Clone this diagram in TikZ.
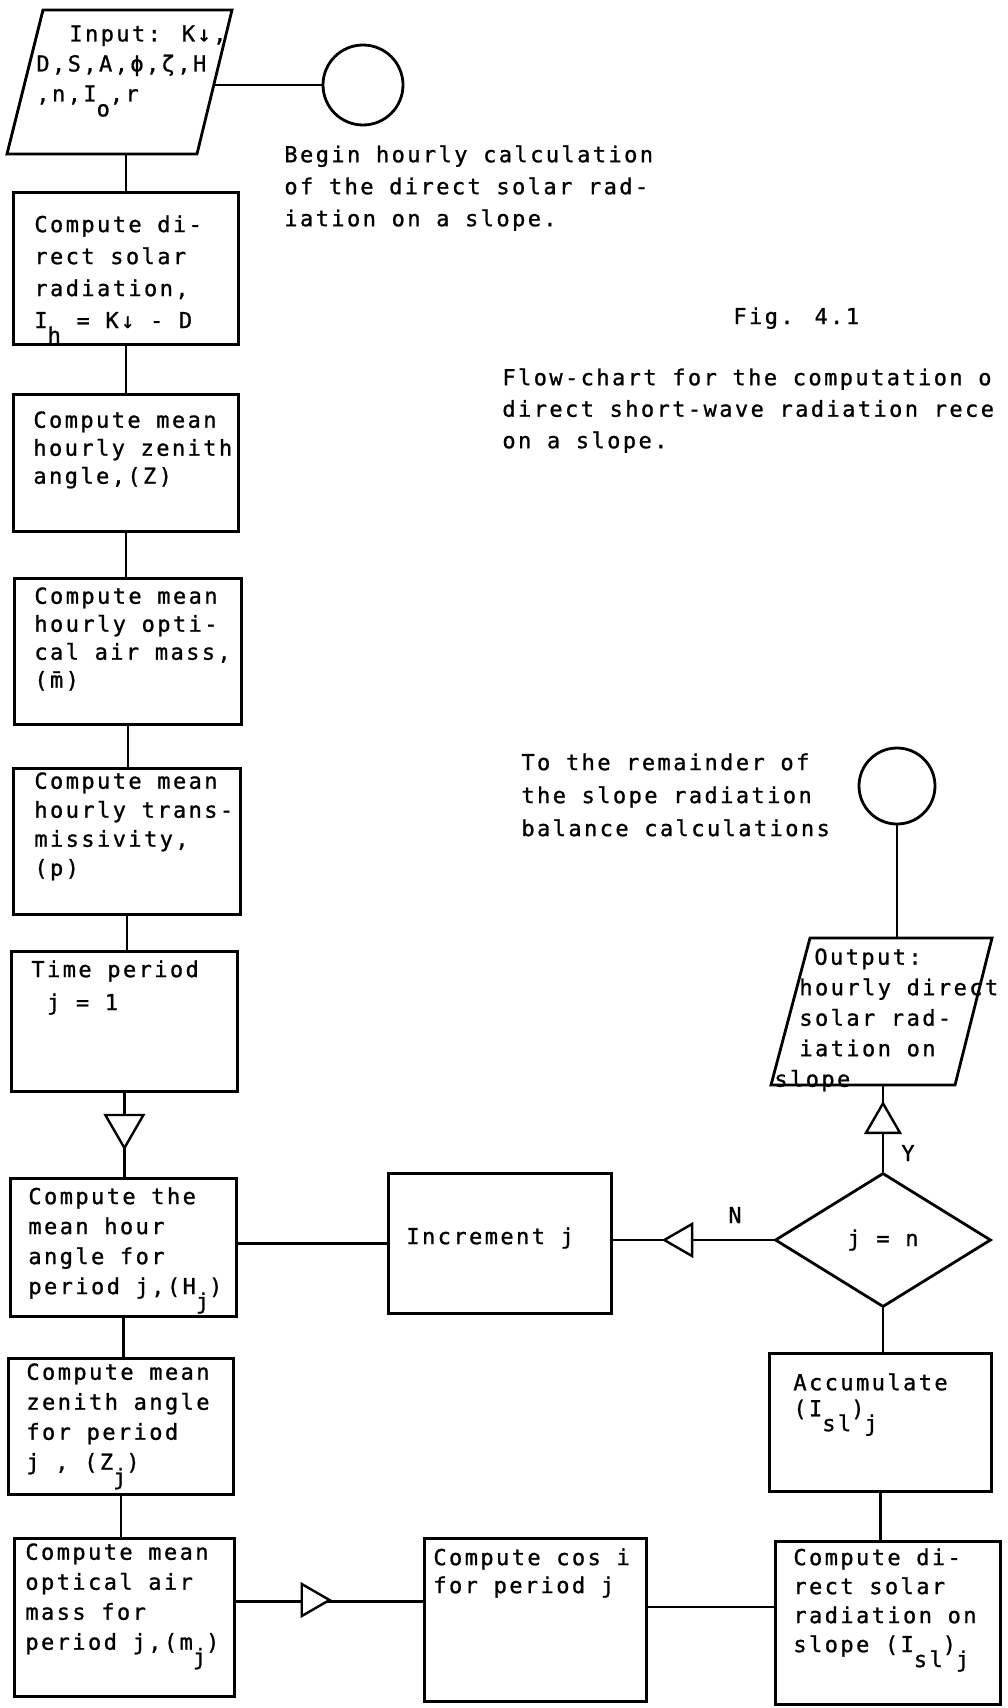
\documentclass[tikz,border=0pt]{standalone}
\usepackage{fontspec}
\usetikzlibrary{shapes.geometric,calc}
\newfontfamily\tw[LetterSpace=11,FakeBold=1]{DejaVu Sans Mono}
\newcommand\lo[1]{\raisebox{-0.68em}[0pt][0pt]{#1}}
\newcommand\tfs[1]{\tw\fontsize{22pt}{#1pt}\selectfont}
\newcommand\bx[5]{\node[boxst, minimum width=#4pt-#2pt, minimum height=#5pt-#3pt] (#1) at (#2,#3) {};}
\begin{document}
\begin{tikzpicture}[x=1pt,y=-1pt,line width=2.8pt,
  boxst/.style={draw, rectangle, inner sep=0pt, anchor=north west},
  txt/.style={inner sep=0pt, anchor=north west, align=left},
  term/.style={draw, circle, inner sep=0pt},
  iobox/.style={inner sep=0pt, rectangle},
  tri/.style={draw, fill=white, regular polygon, regular polygon sides=3, inner sep=0pt, line width=2.4pt},
  lbl/.style={inner sep=0pt, font=\tfs{25}}]
\fill[white] (0,0) rectangle (1008,1708);
\useasboundingbox (0,0) rectangle (1008,1708);

% terminals
\node[term, minimum size=80pt] (c1) at (363,85) {};
\node[term, minimum size=76pt] (c2) at (897,786) {};

% input / output parallelograms
\node[iobox, minimum width=225pt, minimum height=144pt] (inp) at (119.5,82) {};
\coordinate (inpR) at (213.5,85);
\draw[line join=miter] (43,10) -- (232,10) -- (197,154) -- (7,154) -- cycle;
\node[iobox, minimum width=221pt, minimum height=147pt] (out) at (881.5,1011.5) {};
\draw[line join=miter] (810,938) -- (992,938) -- (955,1085) -- (771,1085) -- cycle;

% process boxes
\bx{b1}{12}{191}{237}{343}
\bx{b2}{12}{393}{237}{530}
\bx{b3}{13}{577}{240}{723}
\bx{b4}{12}{767}{239}{913}
\bx{b5}{10}{950}{236}{1090}
\bx{b6}{9}{1177}{235}{1315}
\bx{b7}{7}{1357}{232}{1493}
\bx{b8}{13}{1537}{233}{1695}
\bx{inc}{387}{1172}{610}{1312}
\bx{cos}{423}{1537}{645}{1700}
\bx{acc}{768}{1352}{990}{1490}
\bx{slp}{774}{1540}{999}{1703}
\node[draw, diamond, minimum width=216pt, minimum height=134pt, inner sep=0pt, font=\tfs{25}] (dia) at (883,1240) {j = n};

% connectors
\draw (inpR) -- (inpR -| c1.west);
\draw (b1.north) -- (b1.north |- inp.south);
\draw (b1.south) -- (b1.south |- b2.north);
\draw (b2.south) -- (b2.south |- b3.north);
\draw (b3.south) -- (b3.south |- b4.north);
\draw (b4.south) -- (b4.south |- b5.north);
\draw (b5.south) -- (b5.south |- b6.north);
\draw (b6.south) -- (b6.south |- b7.north);
\draw (b7.south) -- (b7.south |- b8.north);
\draw (inc.west -| b6.east) -- (inc.west);
\draw (dia.west) -- (dia.west -| inc.east);
\draw (dia.north) -- (dia.north |- out.south);
\draw (c2.south) -- (c2.south |- out.north);
\draw (dia.south) -- (dia.south |- acc.north);
\draw (acc.south) -- (acc.south |- slp.north);
\draw ([yshift=13pt]cos.east) -- ([yshift=13pt]cos.east -| slp.west);
\draw ([yshift=16pt]b8.east) -- ([yshift=16pt]b8.east -| cos.west);

% flow triangles
\node[tri, minimum size=43.9pt, regular polygon rotate=180] (t1) at (b5.south |- 0,1126) {};
\node[tri, minimum size=37pt, regular polygon rotate=-90] (t2) at (311,1600) {};
\node[tri, minimum size=37pt, regular polygon rotate=90] (t3) at (682.8,1240) {};
\node[tri, minimum size=39.3pt] (t4) at (dia.north |- 0,1123) {};

% texts in boxes
\node[txt, font=\tfs{30}] (inpt) at (35,24) {\hspace*{33pt}Input: K↓,\\D,S,A,ϕ,ζ,H\\,n,I\lo{o},r};
\node[txt, font=\tfs{32}] (b1t) at (33,214) {Compute di-\\rect solar\\radiation,\\I\lo{h} = K↓ - D};
\node[txt, font=\tfs{28}] (b2t) at (32,410) {Compute mean\\hourly zenith\\angle,(Z)};
\node[txt, font=\tfs{28}] (b3t) at (33,586) {Compute mean\\hourly opti-\\cal air mass,\\(\={m})};
\node[txt, font=\tfs{29}] (b4t) at (33,771) {Compute mean\\hourly trans-\\missivity,\\(p)};
\node[txt, font=\tfs{33}] (b5t) at (30,959) {Time period\\\hspace*{15.6pt}j = 1};
\node[txt, font=\tfs{30}] (b6t) at (27,1186) {Compute the\\mean hour\\angle for\\period j,(H\lo{j})};
\node[txt, font=\tfs{30}] (b7t) at (25,1362) {Compute mean\\zenith angle\\for period\\j , (Z\lo{j})};
\node[txt, font=\tfs{30}] (b8t) at (24,1542) {Compute mean\\optical air\\mass for\\period j,(m\lo{j})};
\node[txt, font=\tfs{30}] (inct) at (405,1226) {Increment j};
\node[txt, font=\tfs{28}] (cost) at (432,1547) {Compute cos i\\for period j};
\node[txt, font=\tfs{26}] (acct) at (792,1372) {Accumulate\\(I\lo{sl})\lo{j}};
\node[txt, font=\tfs{29}] (slpt) at (792,1547) {Compute di-\\rect solar\\radiation on\\slope (I\lo{sl})\lo{j}};
\node[txt, font=\tfs{30.5}] (outt) at (798,947) {\hspace*{15pt}Output:\\hourly direct\\solar rad-\\iation on\\\hspace*{-25pt}slope};

% labels
\node[lbl] (nl) at (735,1215) {N};
\node[lbl] (yl) at (908,1153) {Y};

% free texts
\node[txt, font=\tfs{32}] (begin) at (283,144) {Begin hourly calculation\\of the direct solar rad-\\iation on a slope.};
\node[txt, font=\tfs{30}] (fig) at (732,306) {Fig. 4.1};
\node[txt, font=\tfs{31.5}] (cap) at (501,367) {Flow-chart for the computation o\\direct short-wave radiation rece\\on a slope.};
\node[txt, font=\tfs{33}] (rem) at (520,752) {To the remainder of\\the slope radiation\\balance calculations};
\end{tikzpicture}
\end{document}
